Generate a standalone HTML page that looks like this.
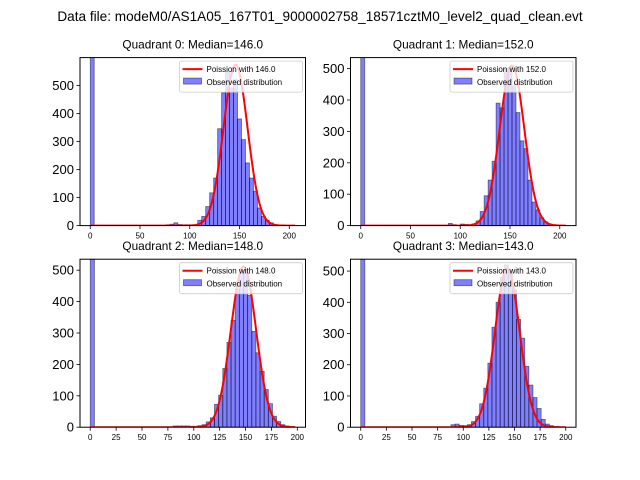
<!DOCTYPE html>
<html><head><meta charset="utf-8"><style>
body{margin:0;background:#fff;}
svg{display:block;font-family:"Liberation Sans","DejaVu Sans",sans-serif;}
</style></head><body>
<svg id="fig" width="640" height="480" viewBox="0 0 640 480">
<rect width="640" height="480" fill="#fff"/>
<text x="320" y="21" text-anchor="middle" font-size="13.6">Data file: modeM0/AS1A05_167T01_9000002758_18571cztM0_level2_quad_clean.evt</text>
</svg>
<script>
// ---- data ----
const binWidth = 4;
const medians = [146.0, 152.0, 148.0, 143.0];
const curvePeaks = [575, 510, 512, 510];
const zeroBin = [900, 900, 900, 900];
const q0Bins = [76,80,84,88,92,96,100,104,108,112,116,120,124,128,132,136,140,144,148,152,156,160,164,168,172,176,180,184,188];
const q0Counts = [3,5,10,4,3,3,3,3,19,33,68,117,170,346,474,548,492,521,381,307,224,170,123,63,33,19,10,4,2];
const q1Bins = [88,92,100,104,108,112,116,120,124,128,132,136,140,144,148,152,156,160,164,168,172,176,180,184,188,192,196,200];
const q1Counts = [7,3,5,4,2,5,15,45,95,145,205,390,375,500,505,445,360,270,245,145,75,50,25,12,5,3,2,1];
const q2Bins = [80,84,88,92,96,100,104,108,112,116,120,124,128,132,136,140,144,148,152,156,160,164,168,172,176,180,184,188,192];
const q2Counts = [4,4,4,4,3,3,5,8,17,30,73,102,187,270,340,440,500,500,420,305,237,178,120,75,35,18,8,4,2];
const q3Bins = [88,92,96,100,104,108,112,116,120,124,128,132,136,140,144,148,152,156,160,164,168,172,176,180,184,188];
const q3Counts = [8,10,6,5,8,18,35,75,125,205,320,400,480,520,500,440,345,285,195,135,95,60,25,10,5,2];
const xRanges = [[-10.3,216.3],[-10.3,216.3],[-9.9,207.9],[-10,210]];
const yMaxes = [600,535,535,538];
const yTicks = [0,100,200,300,400,500];
const xTicksTop = [0,50,100,150,200];
const xTicksBottom = [0,25,50,75,100,125,150,175,200];
const curveEnds = [206,206,198,200];

const NS="http://www.w3.org/2000/svg";
const fig=document.getElementById('fig');
function el(tag,attrs,parent){const e=document.createElementNS(NS,tag);for(const k in attrs)e.setAttribute(k,attrs[k]);(parent||fig).appendChild(e);return e;}
const boxes=[[80,57.6],[350.5,57.6],[80,259.2],[350.5,259.2]];
const W=225.5,H=168;
const allBins=[q0Bins,q1Bins,q2Bins,q3Bins], allCounts=[q0Counts,q1Counts,q2Counts,q3Counts];

for(let q=0;q<4;q++){
  const [L,T]=boxes[q];
  const [x0,x1]=xRanges[q]; const ym=yMaxes[q];
  const sx=v=>L+(v-x0)/(x1-x0)*W;
  const sy=v=>T+H-v/ym*H;
  const g=el('g',{});
  
  
  const cp=el('clipPath',{id:'c'+q},g); el('rect',{x:L,y:T,width:W,height:H},cp);
  const t=el('text',{x:L+W/2,y:T-9,'text-anchor':'middle','font-size':'11.8'},g);
  t.textContent='Quadrant '+q+': Median='+medians[q].toFixed(1);
  
  
  const bg=el('g',{'clip-path':'url(#c'+q+')'},g);
  const bins=[0].concat(allBins[q]), counts=[zeroBin[q]].concat(allCounts[q]);
  for(let i=0;i<bins.length;i++){
    const r=el('rect',{x:sx(bins[i]),y:sy(counts[i]),width:sx(bins[i]+binWidth)-sx(bins[i]),height:sy(0)-sy(counts[i]),fill:'rgba(0,0,255,0.5)',stroke:'rgba(0,0,0,0.5)','stroke-width':'0.8'},bg);
    
    
  }
  const lam=medians[q],sd=Math.sqrt(lam);let d='';
  for(let v=0;v<=curveEnds[q];v+=1){const y=curvePeaks[q]*Math.exp(-(v-lam)*(v-lam)/(2*sd*sd));d+=(v?'L':'M')+sx(v).toFixed(2)+','+sy(y).toFixed(2);}
  const p=el('path',{d:d,fill:'none',stroke:'#f00','stroke-width':'2'},bg);
  
  
  const fr=el('rect',{x:L,y:T,width:W,height:H,fill:'none',stroke:'#000','stroke-width':'1'},g);
  
  
  for(const v of yTicks){const y=sy(v);el('line',{x1:L-3.5,x2:L,y1:y,y2:y,stroke:'#000','stroke-width':'0.8'},g);
    const tt=el('text',{x:L-6,y:y+4.5,'text-anchor':'end','font-size':'13'},g);tt.textContent=v;
    
    }
  for(const v of (q<2?xTicksTop:xTicksBottom)){const x=sx(v);el('line',{x1:x,x2:x,y1:T+H,y2:T+H+3.5,stroke:'#000','stroke-width':'0.8'},g);
    const tt=el('text',{x:x,y:T+H+13,'text-anchor':'middle','font-size':'8'},g);tt.textContent=v;
    
    }
  const lg=el('g',{},g);
  
  
  const lx=L+W-126,ly=T+3.5;
  el('rect',{x:lx,y:ly,width:123,height:31,rx:2,fill:'rgba(255,255,255,0.8)',stroke:'#ccc','stroke-width':'0.8'},lg);
  el('line',{x1:lx+3,x2:lx+23,y1:ly+8,y2:ly+8,stroke:'#f00','stroke-width':'2'},lg);
  const l1=el('text',{x:lx+27,y:ly+11,'font-size':'8'},lg);l1.textContent='Poission with '+medians[q].toFixed(1);
  
  
  el('rect',{x:lx+4,y:ly+17,width:18,height:6,fill:'rgba(0,0,255,0.5)',stroke:'rgba(0,0,0,0.5)','stroke-width':'0.8'},lg);
  const l2=el('text',{x:lx+27,y:ly+24,'font-size':'8'},lg);l2.textContent='Observed distribution';
  
  
}
</script>
</body></html>
